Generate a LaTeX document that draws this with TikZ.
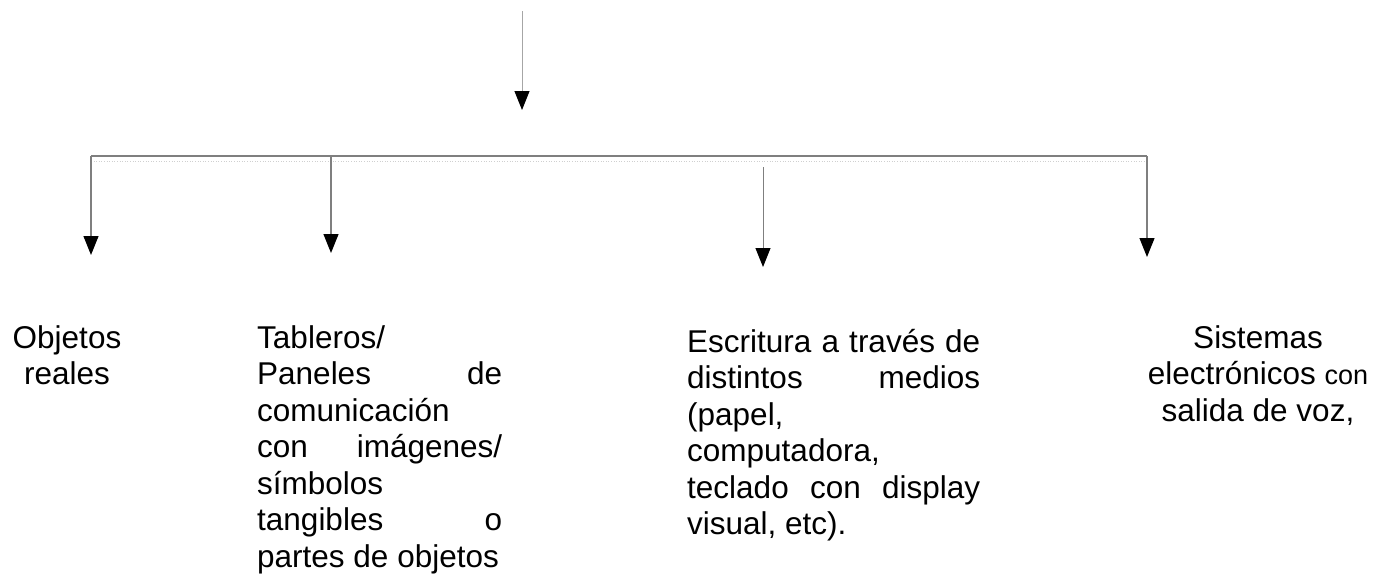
\documentclass[tikz,border=0pt]{standalone}
\usepackage{fontspec}
\setmainfont{Liberation Sans}
\usetikzlibrary{arrows.meta}
\definecolor{linegray}{HTML}{7F7F7F}
\definecolor{toplinegray}{HTML}{A6A6A6}
\definecolor{dotgray}{HTML}{D0D0D0}
\newcommand\justline[2]{\makebox[#1][s]{#2}}
\begin{document}
\begin{tikzpicture}[x=1pt,y=-1pt,
  conn/.style={draw=linegray, line width=1.2pt},
  arr/.style={conn, -{Triangle[width=15pt,length=19pt,color=black]}},
  lbl/.style={inner sep=0pt, font=\fontsize{31.5}{36.5}\selectfont},
]
\useasboundingbox (0,0) rectangle (1384,576);
% coordinates of the connector ends
\coordinate (top) at (522,11);
\coordinate (topend) at (522,110);
\coordinate (bl) at (91,156);
\coordinate (b2) at (331,156);
\coordinate (br) at (1147,156);
\coordinate (dl) at (91,161);
\coordinate (dr) at (1147,161);
\coordinate (e1) at (91,255);
\coordinate (e2) at (331,253);
\coordinate (s3) at (763,167);
\coordinate (e3) at (763,267);
\coordinate (e4) at (1147,257);
% texts (base anchor = baseline of the last line)
\node[lbl, align=center, anchor=base] (obj) at (67,384.5) {Objetos\\reales};
\node[lbl, align=left, anchor=base west] (tab) at (257,567)
  {Tableros/\\\justline{245pt}{Paneles de}\\comunicación\\\justline{245pt}{con imágenes/}\\símbolos\\\justline{245pt}{tangibles o}\\partes de objetos};
\node[lbl, align=left, anchor=base west] (esc) at (687,534.5)
  {\justline{293pt}{Escritura a través de}\\\justline{293pt}{distintos medios}\\(papel,\\computadora,\\\justline{293pt}{teclado con display}\\visual, etc).};
\node[lbl, align=center, anchor=base] (sis) at (1258,421)
  {Sistemas\\electrónicos {\fontsize{27}{36.5}\selectfont con}\\salida de voz,};
% connectors
\draw[arr, draw=toplinegray, line width=1pt] (top) -- (topend);
\draw[conn] (bl) -- (br);
\draw[draw=dotgray, line width=0.6pt, dotted] (dl) -- (dr);
\draw[arr] (bl) -- (e1);
\draw[arr] (b2) -- (e2);
\draw[arr, line width=1pt] (s3) -- (e3);
\draw[arr] (br) -- (e4);
\end{tikzpicture}
\end{document}
